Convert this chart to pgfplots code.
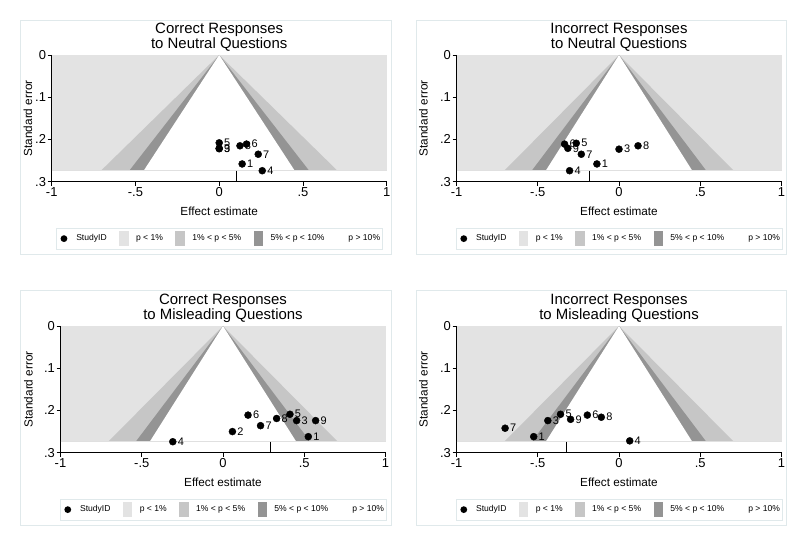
\documentclass[border=0pt]{standalone}
\usepackage{fontspec}
\setmainfont{Liberation Sans}
\usepackage{pgfplots}
\usepackage{pgfplotstable}
\pgfplotsset{compat=1.18}
\definecolor{pone}{HTML}{E3E3E3}
\definecolor{pfive}{HTML}{C6C6C6}
\definecolor{pten}{HTML}{949494}
\definecolor{framec}{HTML}{E0E9EB}

\pgfplotstableread{
x y lab
0 0.208 5
0 0.222 3
0 0.221 9
0.124 0.215 8
0.163 0.211 6
0.233 0.235 7
0.137 0.258 1
0.257 0.274 4
}\dataA
\pgfplotstableread{
x y lab
-0.335 0.211 6
-0.315 0.221 9
-0.263 0.209 5
-0.232 0.235 7
-0.304 0.274 4
-0.136 0.258 1
0 0.223 3
0.117 0.215 8
}\dataB
\pgfplotstableread{
x y lab
0.154 0.211 6
0.058 0.250 2
-0.309 0.274 4
0.231 0.236 7
0.330 0.219 8
0.412 0.209 5
0.453 0.224 3
0.570 0.224 9
0.525 0.262 1
}\dataC
\pgfplotstableread{
x y lab
-0.701 0.242 7
-0.525 0.262 1
-0.438 0.224 3
-0.360 0.209 5
-0.298 0.221 9
-0.195 0.211 6
-0.109 0.216 8
0.066 0.272 4
}\dataD

\pgfplotsset{
  swatch/.style={legend image code/.code={\fill[##1, draw=none] (0bp,-7.5bp) rectangle (9.3bp,7.5bp);}},
  nswatch/.style={legend image code/.code={\path[draw=none, fill=none] (0bp,-7.5bp) rectangle (4bp,7.5bp);}},
  funnel/.style={
    scale only axis, height=126.7bp,
    xmin=-1, xmax=1, ymin=0, ymax=0.3, y dir=reverse,
    axis x line*=bottom, axis y line*=left,
    axis line style={-, black, line width=0.9bp},
    xtick={-1,-0.5,0,0.5,1}, xticklabels={{-1},{-.5},{0},{.5},{1}},
    ytick={0,0.1,0.2,0.3}, yticklabels={{0},{.1},{.2},{.3}},
    tick align=outside, major tick length=4bp,
    tick style={black, line width=0.9bp},
    /pgf/number format/assume math mode=true,
    tick label style={font=\fontsize{13}{13}\selectfont, inner sep=1.5bp},
    xlabel={Effect estimate},
    ylabel={Standard error},
    label style={font=\fontsize{11.8}{13}\selectfont},
    xlabel style={at={(axis description cs:0.5,-0.237)}, anchor=center},
    title style={at={(axis description cs:0.5,1)}, anchor=south, yshift=-2.5bp, inner sep=0pt, align=center, font=\fontsize{15}{15}\selectfont},
    legend columns=5,
    legend style={at={(axis description cs:0.5,-0.365)}, anchor=north, draw=framec, fill=white,
      font=\fontsize{8.6}{10}\selectfont, inner xsep=2bp, inner ysep=3bp,
      nodes={inner xsep=0pt, inner ysep=0pt},
      /tikz/every odd column/.append style={column sep=7.5bp},
      /tikz/every even column/.append style={column sep=12.5bp}},
    legend cell align=left,
    clip=false,
  },
  pts/.style={only marks, mark=*, mark size=3.5bp, black, forget plot,
    nodes near coords, point meta=explicit symbolic,
    nodes near coords style={anchor=west, xshift=3.8bp, inner sep=1bp, text=black, font=\fontsize{11}{12}\selectfont}},
}
\newcommand{\funnelshade}{%
  \addlegendimage{legend image code/.code={\path[draw=none, fill=none] (0bp,-7.5bp) rectangle (10.5bp,7.5bp); \fill[black, draw=none] (5.7bp,0bp) circle (3.4bp);}}
  \addlegendentry{StudyID}
  \addplot[fill=pone, draw=none, swatch] coordinates {(-1,0) (1,0) (1,0.274) (-1,0.274)};
  \addlegendentry{p < 1\%}
  \addplot[fill=pfive, draw=none, swatch] coordinates {(0,0) (-0.706,0.274) (0.706,0.274)};
  \addlegendentry{1\% < p < 5\%}
  \addplot[fill=pten, draw=none, swatch] coordinates {(0,0) (-0.537,0.274) (0.537,0.274)};
  \addlegendentry{5\% < p < 10\%}
  \addplot[fill=white, draw=none, nswatch] coordinates {(0,0) (-0.451,0.274) (0.451,0.274)};
  \addlegendentry{p > 10\%}
  \addplot[black!12, line width=0.6bp, forget plot] coordinates {(-1,0.274) (1,0.274)};
}

\begin{document}
\begin{tikzpicture}[x=1bp,y=1bp]
\useasboundingbox (0,0) rectangle (791,543);
\fill[white] (0,0) rectangle (791,543);
% frames
\draw[framec, line width=0.8bp] (20,289) rectangle (391,522.3);
\draw[framec, line width=0.8bp] (416.7,289) rectangle (786,522.3);
\draw[framec, line width=0.8bp] (20,18) rectangle (391,252.3);
\draw[framec, line width=0.8bp] (416.7,18) rectangle (786,252.3);

\begin{axis}[funnel, width=335bp, at={(51.7bp,361.3bp)}, anchor=south west,
  title={Correct Responses\\to Neutral Questions},
  ylabel style={at={(axis description cs:-0.0707,0.5)}, anchor=center}]
\funnelshade
\addplot[black, line width=0.9bp, forget plot] coordinates {(0.10,0.274) (0.10,0.3)};
\addplot[pts] table[x=x, y=y, meta=lab] {\dataA};
\end{axis}

\begin{axis}[funnel, width=325bp, at={(456.5bp,361.3bp)}, anchor=south west,
  title={Incorrect Responses\\to Neutral Questions},
  ylabel style={at={(axis description cs:-0.102,0.5)}, anchor=center}]
\funnelshade
\addplot[black, line width=0.9bp, forget plot] coordinates {(-0.181,0.274) (-0.181,0.3)};
\addplot[pts] table[x=x, y=y, meta=lab] {\dataB};
\end{axis}

\begin{axis}[funnel, width=325bp, at={(60.5bp,90.3bp)}, anchor=south west,
  title={Correct Responses\\to Misleading Questions},
  ylabel style={at={(axis description cs:-0.099,0.5)}, anchor=center}]
\funnelshade
\addplot[black, line width=0.9bp, forget plot] coordinates {(0.294,0.274) (0.294,0.3)};
\addplot[pts] table[x=x, y=y, meta=lab] {\dataC};
\end{axis}

\begin{axis}[funnel, width=325bp, at={(456.5bp,90.3bp)}, anchor=south west,
  title={Incorrect Responses\\to Misleading Questions},
  ylabel style={at={(axis description cs:-0.102,0.5)}, anchor=center}]
\funnelshade
\addplot[black, line width=0.9bp, forget plot] coordinates {(-0.321,0.274) (-0.321,0.3)};
\addplot[pts] table[x=x, y=y, meta=lab] {\dataD};
\end{axis}
\end{tikzpicture}
\end{document}
